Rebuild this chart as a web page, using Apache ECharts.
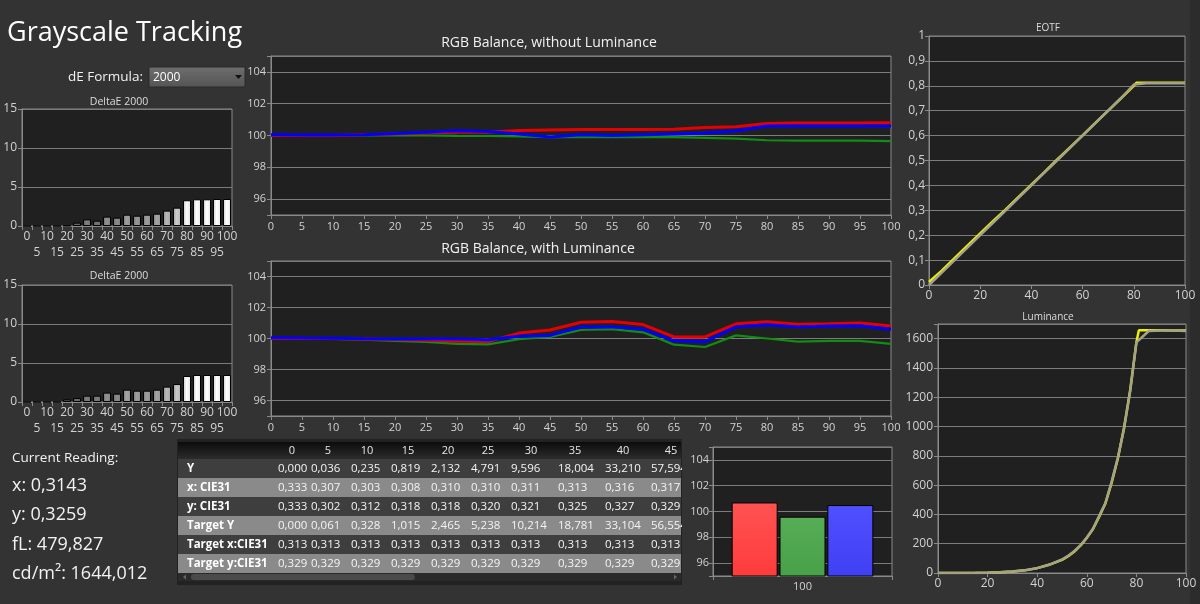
<!DOCTYPE html>
<html><head><meta charset="utf-8">
<script src="https://cdn.jsdelivr.net/npm/echarts@6/dist/echarts.min.js"></script>
<style>html,body{margin:0;padding:0;background:#333333;}#c{width:1200px;height:604px;}</style>
</head><body><div id="c"></div>
<script>
// ---------- DATA ----------
const steps = [0,5,10,15,20,25,30,35,40,45,50,55,60,65,70,75,80,85,90,95,100];
const stepLabels = ['0','5','10','15','20','25','30','35','40','45','50','55','60','65','70','75','80','85','90','95','100'];
const deltaE1 = [0,0,0,0,0.05,0.43,0.85,0.68,1.2,1.07,1.45,1.32,1.45,1.58,1.97,2.35,3.3,3.42,3.42,3.46,3.46];
const deltaE2 = [0,0,0,0,0.34,0.51,0.81,0.81,1.2,1.07,1.58,1.45,1.45,1.58,1.97,2.3,3.33,3.46,3.46,3.46,3.46];

const noLumRed   = [100,100,100,100.05,100.1,100.15,100.2,100.2,100.32,100.35,100.38,100.38,100.38,100.4,100.5,100.55,100.75,100.78,100.78,100.78,100.8];
const noLumGreen = [100,100,100,100,100,100,99.98,99.97,99.95,99.9,99.9,99.9,99.9,99.9,99.85,99.8,99.7,99.68,99.68,99.68,99.65];
const noLumBlue  = [100.05,100.03,100.03,100.05,100.12,100.2,100.3,100.25,100.1,99.9,100.05,100,100.05,100.1,100.15,100.3,100.6,100.6,100.6,100.6,100.6];

const lumRed   = [100,100,100,99.97,99.93,99.88,99.82,99.8,100.35,100.55,101.05,101.1,100.9,100.1,100.1,100.95,101.08,100.92,100.95,101.0,100.8];
const lumGreen = [100,100,99.98,99.92,99.85,99.78,99.65,99.62,99.95,100.1,100.55,100.6,100.4,99.6,99.45,100.2,100.0,99.8,99.85,99.85,99.65];
const lumBlue  = [100.05,100.03,100.02,99.98,99.97,99.97,99.97,99.92,100.15,100.2,100.75,100.75,100.6,99.85,99.8,100.75,100.88,100.75,100.8,100.82,100.6];

const eotfTargetX = [0,5,10,15,20,25,30,35,40,45,50,55,60,65,70,75,80,85,90,95,100];
const eotfTarget  = [0,0.05,0.1,0.15,0.2,0.25,0.3,0.35,0.4,0.45,0.5,0.55,0.6,0.65,0.7,0.75,0.805,0.81,0.81,0.81,0.81];
const eotfMeasX   = [0,5,10,15,20,25,30,35,40,45,50,55,60,65,70,75,80,81,85,90,95,100];
const eotfMeas    = [0.012,0.058,0.108,0.158,0.207,0.256,0.304,0.354,0.403,0.452,0.503,0.552,0.601,0.651,0.7,0.75,0.8,0.812,0.812,0.812,0.812,0.812];

const lumTargetX = [0,5,10,15,20,25,30,35,40,45,50,52.5,55,57.5,60,62.5,65,67.5,70,72.5,75,77.5,80,85,90,95,100];
const lumTarget  = [0,0.061,0.328,1.015,2.465,5.238,10.214,18.781,33.104,56.55,92,118,150,190,243,302,390,478,622,786,984,1240,1575,1652,1655,1655,1652];
const lumMeasX   = [0,5,10,15,20,25,30,35,40,45,50,52.5,55,57.5,60,62.5,65,67.5,70,72.5,75,77.5,80,81,85,90,95,100];
const lumMeas    = [0,0.036,0.235,0.819,2.132,4.791,9.596,18.004,33.21,57.594,90,115,146,188,240,300,385,475,615,780,990,1250,1575,1658,1658,1658,1656,1655];

const barCats  = ['100'];
const barRed   = [100.7];
const barGreen = [99.6];
const barBlue  = [100.5];

const tableCols = ['0','5','10','15','20','25','30','35','40','45'];
const rowLabels = ['Y','x: CIE31','y: CIE31','Target Y','Target x:CIE31','Target y:CIE31'];
const rowY       = ['0,000','0,036','0,235','0,819','2,132','4,791','9,596','18,004','33,210','57,594'];
const rowX       = ['0,333','0,307','0,303','0,308','0,310','0,310','0,311','0,313','0,316','0,317'];
const rowYc      = ['0,333','0,302','0,312','0,318','0,318','0,320','0,321','0,325','0,327','0,329'];
const rowTargetY = ['0,000','0,061','0,328','1,015','2,465','5,238','10,214','18,781','33,104','56,554'];
const rowTargetX = ['0,313','0,313','0,313','0,313','0,313','0,313','0,313','0,313','0,313','0,313'];
const rowTargetYc= ['0,329','0,329','0,329','0,329','0,329','0,329','0,329','0,329','0,329','0,329'];
const tableRows = [rowY,rowX,rowYc,rowTargetY,rowTargetX,rowTargetYc];

const readingTitle = 'Current Reading:';
const readings = ['x: 0,3143','y: 0,3259','fL: 479,827','cd/m²: 1644,012'];

// ---------- LAYOUT / STYLE ----------
const BG = '#333333', PLOT = '#202020', GRIDC = '#7c7c7c', LBL = '#d2d2d2';
const FONT = '"Open Sans", "Noto Sans", sans-serif';
const pairs = (xs, ys) => xs.map((x, i) => [x, ys[i]]);
const baseGrid = {show:true, backgroundColor:PLOT, borderColor:'#8a8a8a', borderWidth:1, containLabel:false, outerBoundsMode:'none'};
const axLine = {show:true, lineStyle:{color:'#8a8a8a', width:1}};
const axTick = {show:true, length:4, lineStyle:{color:'#8a8a8a'}};
const rgbFmt = v => (v % 2 === 0 ? String(v) : '');
const commaFmt = v => (v === 0 ? '0' : v === 1 ? '1' : v.toFixed(1).replace('.', ','));
const mkSplit = () => ({show:true, lineStyle:{color:GRIDC, width:1}});

function hex2(n) { n = Math.max(0, Math.min(255, Math.round(n))); return (n < 16 ? '0' : '') + n.toString(16); }
function grey(n) { const h = hex2(n); return '#' + h + h + h; }
// bar shade grows with the bar's own value (lighter = taller), with a slight horizontal sheen
function deColor(params) {
  const b = 85 + 170 * Math.min(params.value / 3.4, 1);
  return new echarts.graphic.LinearGradient(0, 0, 1, 0, [
    {offset:0, color:grey(b * 0.78)}, {offset:0.45, color:grey(b)}, {offset:1, color:grey(b * 0.9)}]);
}
function vGrad(c1, c2) {
  return new echarts.graphic.LinearGradient(0, 0, 0, 1, [{offset:0, color:c1}, {offset:1, color:c2}]);
}

const grids = [
  Object.assign({left:22, top:109, width:210, height:117}, baseGrid),
  Object.assign({left:22, top:285, width:210, height:117}, baseGrid),
  Object.assign({left:271, top:56, width:620, height:159}, baseGrid),
  Object.assign({left:271, top:261, width:620, height:155}, baseGrid),
  Object.assign({left:929, top:36, width:256, height:249}, baseGrid),
  Object.assign({left:938, top:324, width:248, height:249}, baseGrid),
  Object.assign({left:713, top:447, width:179, height:129}, baseGrid)
];

function deX(g) {
  return {type:'category', gridIndex:g, data:stepLabels, axisLine:axLine, axisTick:axTick,
    axisLabel:{interval:0, color:LBL, fontSize:12, margin:3, lineHeight:16,
      formatter:(v, i) => (i % 2 ? '\n' + v : v)}, splitLine:{show:false}};
}
function deY(g) {
  return {type:'value', gridIndex:g, min:0, max:15, interval:5, axisLine:axLine, axisTick:axTick,
    axisLabel:{color:LBL, fontSize:12, margin:5}, splitLine:mkSplit()};
}
function rgbX(g) {
  return {type:'value', gridIndex:g, min:0, max:100, interval:5, axisLine:axLine, axisTick:axTick,
    axisLabel:{color:LBL, fontSize:11, margin:6}, splitLine:{show:false}};
}
function rgbY(g) {
  return {type:'value', gridIndex:g, min:95, max:105, splitNumber:5, axisLine:axLine, axisTick:axTick,
    axisLabel:{color:LBL, fontSize:11, margin:5, formatter:rgbFmt}, splitLine:mkSplit()};
}

const xAxes = [
  deX(0), deX(1), rgbX(2), rgbX(3),
  {type:'value', gridIndex:4, min:0, max:100, interval:20, axisLine:axLine, axisTick:axTick,
   axisLabel:{color:LBL, fontSize:12, margin:5}, splitLine:{show:false}},
  {type:'value', gridIndex:5, min:0, max:100, interval:20, axisLine:axLine, axisTick:axTick,
   axisLabel:{color:LBL, fontSize:12, margin:5}, splitLine:{show:false}},
  {type:'category', gridIndex:6, data:barCats, axisLine:axLine, axisTick:axTick,
   axisLabel:{color:LBL, fontSize:11, margin:5}, splitLine:{show:false}}
];
const yAxes = [
  deY(0), deY(1), rgbY(2), rgbY(3),
  {type:'value', gridIndex:4, min:0, max:1, interval:0.1, axisLine:axLine, axisTick:axTick,
   axisLabel:{color:LBL, fontSize:12, margin:4, formatter:commaFmt}, splitLine:mkSplit()},
  {type:'value', gridIndex:5, min:0, max:1700, interval:200, axisLine:axLine, axisTick:axTick,
   axisLabel:{color:LBL, fontSize:12, margin:5, formatter:v => (v > 1600 ? '' : String(v))}, splitLine:mkSplit()},
  {type:'value', gridIndex:6, min:95, max:105, splitNumber:5, axisLine:axLine, axisTick:axTick,
   axisLabel:{color:LBL, fontSize:11, margin:4, formatter:rgbFmt},
   splitLine:{show:true, lineStyle:{color:GRIDC, width:1}}}
];

const lineBase = {type:'line', symbol:'none', animation:false};
const series = [
  {type:'bar', xAxisIndex:0, yAxisIndex:0, data:deltaE1, barWidth:8,
   itemStyle:{color:deColor, borderColor:'#000', borderWidth:1}},
  {type:'bar', xAxisIndex:1, yAxisIndex:1, data:deltaE2, barWidth:8,
   itemStyle:{color:deColor, borderColor:'#000', borderWidth:1}},
  Object.assign({xAxisIndex:2, yAxisIndex:2, data:pairs(steps, noLumGreen), lineStyle:{color:'#138c13', width:2.2}}, lineBase),
  Object.assign({xAxisIndex:2, yAxisIndex:2, data:pairs(steps, noLumRed), lineStyle:{color:'#e60000', width:3}}, lineBase),
  Object.assign({xAxisIndex:2, yAxisIndex:2, data:pairs(steps, noLumBlue), lineStyle:{color:'#0000ff', width:3}}, lineBase),
  Object.assign({xAxisIndex:3, yAxisIndex:3, data:pairs(steps, lumGreen), lineStyle:{color:'#138c13', width:2.2}}, lineBase),
  Object.assign({xAxisIndex:3, yAxisIndex:3, data:pairs(steps, lumRed), lineStyle:{color:'#e60000', width:3}}, lineBase),
  Object.assign({xAxisIndex:3, yAxisIndex:3, data:pairs(steps, lumBlue), lineStyle:{color:'#0000ff', width:3}}, lineBase),
  Object.assign({xAxisIndex:4, yAxisIndex:4, data:pairs(eotfMeasX, eotfMeas), lineStyle:{color:'#eeee00', width:2.5}}, lineBase),
  Object.assign({xAxisIndex:4, yAxisIndex:4, data:pairs(eotfTargetX, eotfTarget), lineStyle:{color:'#a3a38c', width:2.5}}, lineBase),
  Object.assign({xAxisIndex:5, yAxisIndex:5, data:pairs(lumMeasX, lumMeas), lineStyle:{color:'#eeee00', width:2.5}}, lineBase),
  Object.assign({xAxisIndex:5, yAxisIndex:5, data:pairs(lumTargetX, lumTarget), lineStyle:{color:'#a3a38c', width:2.5}}, lineBase),
  {type:'bar', xAxisIndex:6, yAxisIndex:6, data:barRed, barWidth:46, barGap:'4%',
   itemStyle:{color:vGrad('#ff5252','#ff3c3c'), borderColor:'#000', borderWidth:1}},
  {type:'bar', xAxisIndex:6, yAxisIndex:6, data:barGreen, barWidth:46, barGap:'4%',
   itemStyle:{color:vGrad('#56ad56','#48a048'), borderColor:'#000', borderWidth:1}},
  {type:'bar', xAxisIndex:6, yAxisIndex:6, data:barBlue, barWidth:46, barGap:'4%',
   itemStyle:{color:vGrad('#5050ff','#4040f4'), borderColor:'#000', borderWidth:1}}
];

// ---------- GRAPHIC (texts, table) ----------
function txt(x, y, text, size, opts) {
  opts = opts || {};
  const align = opts.align || 'left';
  return {type:'text', x:x, y:y, z:opts.z || 20, silent:true,
    style:{text:text, fill:opts.color || '#f2f2f2', fontSize:size, fontFamily:FONT,
      fontWeight:opts.weight || 'normal', align:align, textAlign:align,
      verticalAlign:'middle', textVerticalAlign:'middle'}};
}
const g = [];
g.push({type:'rect', z:-1, silent:true, shape:{x:1190, y:0, width:10, height:604}, style:{fill:'#2c2c2c'}});
g.push(txt(7, 33, 'Grayscale Tracking', 27, {color:'#ffffff'}));
g.push(txt(143, 77, 'dE Formula:', 13.5, {align:'right'}));
g.push({type:'rect', z:15, shape:{x:149, y:67, width:96, height:20},
  style:{fill:vGrad('#6e6e6e','#545454'), stroke:'#2a2a2a', lineWidth:1}});
g.push(txt(153, 78, '2000', 12, {color:'#ffffff'}));
g.push({type:'polygon', z:20, shape:{points:[[235,75],[242,75],[238.5,79]]}, style:{fill:'#111'}});

g.push(txt(119, 102, 'DeltaE 2000', 10.5, {align:'center', color:'#dcdcdc'}));
g.push(txt(119, 276, 'DeltaE 2000', 10.5, {align:'center', color:'#dcdcdc'}));
g.push(txt(549, 43, 'RGB Balance, without Luminance', 14, {align:'center'}));
g.push(txt(538, 249, 'RGB Balance, with Luminance', 14, {align:'center'}));
g.push(txt(1048, 28, 'EOTF', 10, {align:'center', color:'#dcdcdc'}));
g.push(txt(1048, 317, 'Luminance', 10, {align:'center', color:'#dcdcdc'}));

g.push(txt(12, 458, readingTitle, 13.5));
readings.forEach((r, i) => g.push(txt(12, 486 + i * 29.2, r, 18)));

// table
const T_LEFT = 178, T_RIGHT = 681, H_TOP = 442, H_H = 17, R_TOP = 459, R_H = 19;
const valueX = [278, 311, 351, 391, 431, 471, 511, 558, 605, 651];
const headX  = [292, 328, 367, 408, 448, 488, 531, 575, 623, 671];
g.push({type:'rect', z:10, shape:{x:T_LEFT - 1, y:H_TOP - 3, width:T_RIGHT - T_LEFT + 2, height:146}, style:{fill:'#222'}});
g.push({type:'rect', z:11, shape:{x:T_LEFT, y:H_TOP, width:T_RIGHT - T_LEFT, height:H_H},
  style:{fill:vGrad('#0c0c0c','#2c2c2c')}});
tableCols.forEach((c, i) => g.push(txt(headX[i], H_TOP + H_H / 2, c, 11, {align:'center', color:'#e6e6e6'})));
tableRows.forEach((row, r) => {
  const y0 = R_TOP + r * R_H;
  g.push({type:'rect', z:11, shape:{x:T_LEFT, y:y0, width:T_RIGHT - T_LEFT, height:R_H},
    style:{fill: r % 2 ? '#8a8a8a' : '#3e3e3e'}});
  g.push(txt(187, y0 + R_H / 2, rowLabels[r], 11.5, {weight:'bold', color:'#ffffff'}));
  row.forEach((v, i) => g.push(txt(valueX[i], y0 + R_H / 2, v, 11.5, {color:'#f4f4f4'})));
});
const sbTop = R_TOP + 6 * R_H;
g.push({type:'rect', z:11, shape:{x:T_LEFT, y:sbTop, width:T_RIGHT - T_LEFT, height:8}, style:{fill:'#2a2a2a'}});
g.push({type:'rect', z:12, shape:{x:191, y:sbTop + 1, width:224, height:6, r:3}, style:{fill:'#4a4a4a'}});
g.push({type:'polygon', z:12, shape:{points:[[183,sbTop+4],[186,sbTop+1.5],[186,sbTop+6.5]]}, style:{fill:'#666'}});
g.push({type:'polygon', z:12, shape:{points:[[677,sbTop+4],[674,sbTop+1.5],[674,sbTop+6.5]]}, style:{fill:'#666'}});
g.push({type:'rect', z:30, shape:{x:T_RIGHT + 1, y:H_TOP - 4, width:6, height:150}, style:{fill:BG}});

const chart = echarts.init(document.getElementById('c'), null, {renderer:'canvas'});
chart.setOption({
  backgroundColor: BG,
  animation: false,
  textStyle: {fontFamily: FONT},
  grid: grids,
  xAxis: xAxes,
  yAxis: yAxes,
  series: series,
  graphic: {elements: g}
});
</script>
</body></html>
